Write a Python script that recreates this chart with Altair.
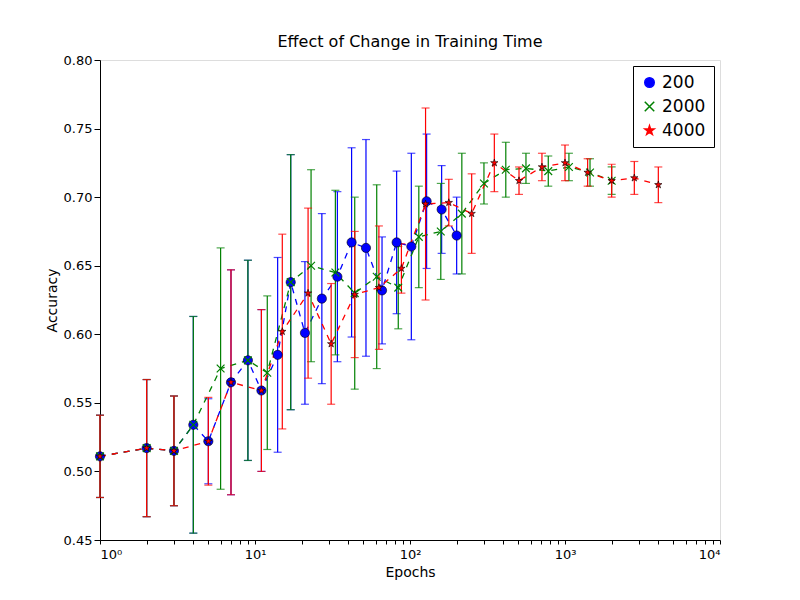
import altair as alt
import pandas as pd

b_x = [1,2,3,4,5,7,9,11,14,17,21,27,34,42,52,66,82,102,128,160,200]
b_y = [0.511,0.517,0.515,0.534,0.522,0.565,0.581,0.559,0.585,0.638,0.601,0.626,0.642,0.667,0.663,0.632,0.667,0.664,0.697,0.691,0.672]
b_e = [0.03,0.05,0.04,0.079,0.031,0.082,0.073,0.059,0.071,0.093,0.052,0.062,0.062,0.069,0.079,0.039,0.052,0.068,0.049,0.032,0.028]

g_x = [1,2,3,4,6,9,12,17,23,33,44,61,84,114,158,216,300,415,560,780,1060,1450,2000]
g_y = [0.511,0.517,0.515,0.534,0.575,0.581,0.572,0.638,0.650,0.645,0.630,0.642,0.634,0.671,0.675,0.688,0.710,0.720,0.721,0.719,0.722,0.718,0.712]
g_e = [0.03,0.05,0.04,0.079,0.088,0.073,0.056,0.093,0.07,0.06,0.07,0.067,0.03,0.037,0.035,0.044,0.015,0.02,0.011,0.011,0.01,0.01,0.01]

r_x = [1,2,3,5,7,11,15,22,31,44,63,88,126,178,250,350,505,710,1000,1400,2000,2800,4000]
r_y = [0.511,0.517,0.515,0.522,0.565,0.559,0.602,0.630,0.593,0.629,0.634,0.648,0.695,0.696,0.688,0.725,0.712,0.722,0.725,0.718,0.712,0.714,0.709]
r_e = [0.03,0.05,0.04,0.032,0.082,0.059,0.071,0.062,0.044,0.046,0.045,0.018,0.07,0.017,0.029,0.021,0.01,0.01,0.013,0.01,0.012,0.012,0.013]

names = ["200", "2000", "4000"]
colors = ["#0000ff", "#008000", "#ff0000"]
star = "M0,-1L0.2245,-0.309L0.951,-0.309L0.363,0.118L0.588,0.809L0,0.382L-0.588,0.809L-0.363,0.118L-0.951,-0.309L-0.2245,-0.309Z"
xshape = "M-1,-1L1,1M-1,1L1,-1"

rows = []
for i, (xs, ys, es) in enumerate([(b_x, b_y, b_e), (g_x, g_y, g_e), (r_x, r_y, r_e)]):
    for x, y, e in zip(xs, ys, es):
        rows.append({"series": names[i], "order": i, "x": x, "y": y, "lo": y - e, "hi": y + e})
df = pd.DataFrame(rows)

xs = alt.Scale(type="log", domain=[1, 10000], nice=False)
ys = alt.Scale(domain=[0.45, 0.80], nice=False, zero=False)
cs = alt.Scale(domain=names, range=colors)
ss = alt.Scale(domain=names, range=["circle", xshape, star])

minor = [k * 10**p for p in range(0, 4) for k in range(1, 10)] + [10000]
xaxis = alt.Axis(title="Epochs", values=minor, grid=False, tickColor="black",
                 labelExpr="datum.value==1?'10⁰':datum.value==10?'10¹':datum.value==100?'10²':datum.value==1000?'10³':datum.value==10000?'10⁴':''",
                 labelFontSize=13, titleFontSize=14, titleFontWeight="normal", tickSize=4,
                 domainColor="black", labelColor="black", titleColor="black", labelPadding=4)
yaxis = alt.Axis(title="Accuracy", values=[0.45,0.5,0.55,0.6,0.65,0.7,0.75,0.8], format=".2f", grid=False,
                 labelFontSize=13, titleFontSize=14, titleFontWeight="normal", tickSize=6,
                 domainColor="black", tickColor="black", labelColor="black", titleColor="black")

base = alt.Chart(df)
layers = []
for i, n in enumerate(names):
    d = base.transform_filter(alt.datum.series == n)
    col = colors[i]
    layers.append(d.mark_rule(color=col, strokeWidth=1.2).encode(x=alt.X("x:Q", scale=xs, axis=xaxis), y=alt.Y("lo:Q", scale=ys, axis=yaxis), y2="hi:Q"))
    layers.append(d.mark_tick(color=col, size=8, thickness=1.2, orient="horizontal").encode(x=alt.X("x:Q", scale=xs), y=alt.Y("lo:Q", scale=ys)))
    layers.append(d.mark_tick(color=col, size=8, thickness=1.2, orient="horizontal").encode(x=alt.X("x:Q", scale=xs), y=alt.Y("hi:Q", scale=ys)))
    layers.append(d.mark_line(color=col, strokeDash=[6, 6], strokeWidth=1.3).encode(x=alt.X("x:Q", scale=xs), y=alt.Y("y:Q", scale=ys)))
for i, n in enumerate(names):
    d = base.transform_filter(alt.datum.series == n)
    if i == 1:
        m = d.mark_point(filled=False, strokeWidth=1.2, size=60, opacity=1)
    else:
        m = d.mark_point(filled=True, stroke="black", strokeWidth=0.6, size=85 if i == 0 else 60, opacity=1)
    layers.append(m.encode(
        x=alt.X("x:Q", scale=xs), y=alt.Y("y:Q", scale=ys),
        color=alt.Color("series:N", scale=cs, legend=alt.Legend(title=None, orient="top-right", fillColor="white",
                        strokeColor="black", padding=8, labelFontSize=17, symbolSize=90, rowPadding=6, offset=6)),
        shape=alt.Shape("series:N", scale=ss, legend=None)))

chart = alt.layer(*layers).properties(
    width=620, height=480,
    title=alt.TitleParams("Effect of Change in Training Time", fontSize=16, fontWeight="normal", color="black"),
    autosize=alt.AutoSizeParams(type="none"),
    padding={"left": 92, "top": 52, "right": 64, "bottom": 48},
).configure_view(stroke="black", strokeWidth=1.2).configure(font="DejaVu Sans")

chart.save("out.html", embed_options={"renderer": "svg", "actions": False})
